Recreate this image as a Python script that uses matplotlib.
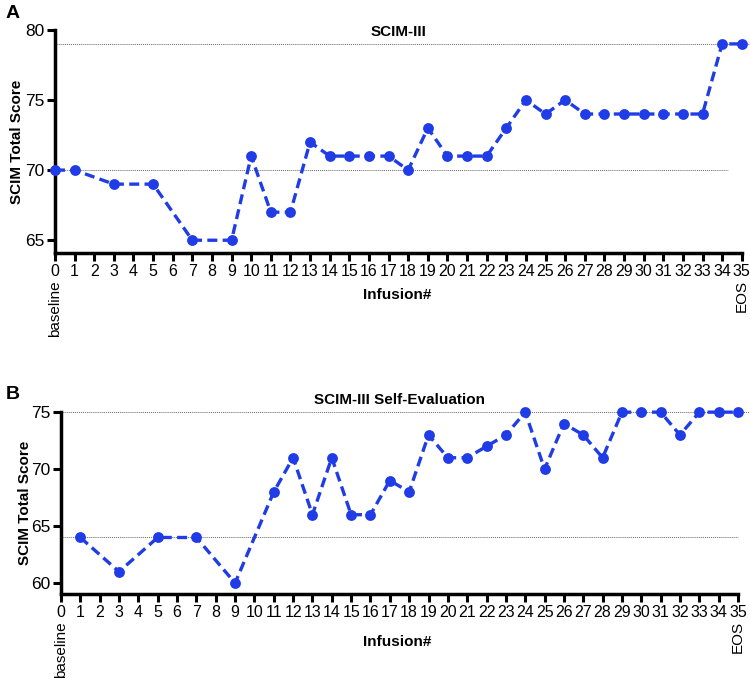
import matplotlib
matplotlib.use("Agg")
import matplotlib.pyplot as plt
import matplotlib.transforms as mtransforms

plt.rcParams['font.family'] = ['Liberation Sans', 'DejaVu Sans']

# Panel A: SCIM-III
a_x = [0, 1, 3, 5, 7, 9, 10, 11, 12, 13, 14, 15, 16, 17, 18, 19, 20, 21, 22, 23,
       24, 25, 26, 27, 28, 29, 30, 31, 32, 33, 34, 35]
a_y = [70, 70, 69, 69, 65, 65, 71, 67, 67, 72, 71, 71, 71, 71, 70, 73, 71, 71, 71, 73,
       75, 74, 75, 74, 74, 74, 74, 74, 74, 74, 79, 79]
a_ref = [79, 70]
a_yticks = [65, 70, 75, 80]

# Panel B: SCIM-III Self-Evaluation
b_x = [1, 3, 5, 7, 9, 11, 12, 13, 14, 15, 16, 17, 18, 19, 20, 21, 22, 23, 24, 25,
       26, 27, 28, 29, 30, 31, 32, 33, 34, 35]
b_y = [64, 61, 64, 64, 60, 68, 71, 66, 71, 66, 66, 69, 68, 73, 71, 71, 72, 73, 75, 70,
       74, 73, 71, 75, 75, 75, 73, 75, 75, 75]
b_ref = [75, 64]
b_yticks = [60, 65, 70, 75]

x_ticks = list(range(0, 36))
first_label = "baseline"
last_label = "EOS"

color = '#1f3ce6'

fig = plt.figure(figsize=(7.5, 6.79), dpi=100)
axA = fig.add_axes([0.0733, 0.627, 0.9157, 0.329])
axB = fig.add_axes([0.0813, 0.125, 0.9027, 0.268])


def style(ax, xs, ys, refs, yticks, ylim, title, title_y, label_y_px, ylab_x, panel,
          panel_y, ref_ends):
    for r, xe in zip(refs, ref_ends):
        ax.plot([0, xe], [r, r], color='#666666', lw=0.7, linestyle=(0, (1, 1)),
                clip_on=False, zorder=1)
    ax.plot(xs, ys, color=color, lw=2.4, linestyle=(0, (3, 1.6)), marker='o',
            markersize=7.8, markeredgewidth=0, zorder=3, clip_on=False)
    ax.set_xlim(0, 35)
    ax.set_ylim(*ylim)
    ax.set_yticks(yticks)
    ax.set_xticks(x_ticks)
    ax.set_xticklabels([str(t) for t in x_ticks], fontsize=11.5)
    for s in ['top', 'right']:
        ax.spines[s].set_visible(False)
    for s in ['left', 'bottom']:
        ax.spines[s].set_linewidth(2.5)
    ax.tick_params(axis='both', width=2.2, length=6)
    ax.tick_params(axis='x', pad=2)
    ax.tick_params(axis='y', labelsize=12.5, pad=1.5)
    bb = ax.get_position()
    fig.text((bb.x0 + bb.x1) / 2, 1 - title_y / 679, title, ha='center', va='center',
             fontsize=11, fontweight='bold')
    trans = mtransforms.blended_transform_factory(ax.transData, ax.transAxes)
    off = mtransforms.offset_copy(trans, fig=fig, x=0, y=-27, units='dots')
    ax.text(0, 0, first_label, transform=off, rotation=90, ha='center', va='top',
            fontsize=11)
    ax.text(35, 0, last_label, transform=off, rotation=90, ha='center', va='top',
            fontsize=11)
    fig.text(0.53, 1 - label_y_px / 679, 'Infusion#', ha='center', va='center',
             fontsize=11, fontweight='bold')
    fig.text(ylab_x / 750, (bb.y0 + bb.y1) / 2, 'SCIM Total Score', rotation=90,
             ha='center', va='center', fontsize=11, fontweight='bold')
    fig.text(6 / 750, 1 - panel_y / 679, panel, ha='left', va='center',
             fontsize=14, fontweight='bold')


style(axA, a_x, a_y, a_ref, a_yticks, (64.07, 80), 'SCIM-III', 32, 295, 17, 'A', 14,
      [35.6, 34.3])
style(axB, b_x, b_y, b_ref, b_yticks, (59.03, 75), 'SCIM-III Self-Evaluation', 400,
      642, 25, 'B', 394, [35.8, 35.0])

fig.savefig('out.png', dpi=100)
